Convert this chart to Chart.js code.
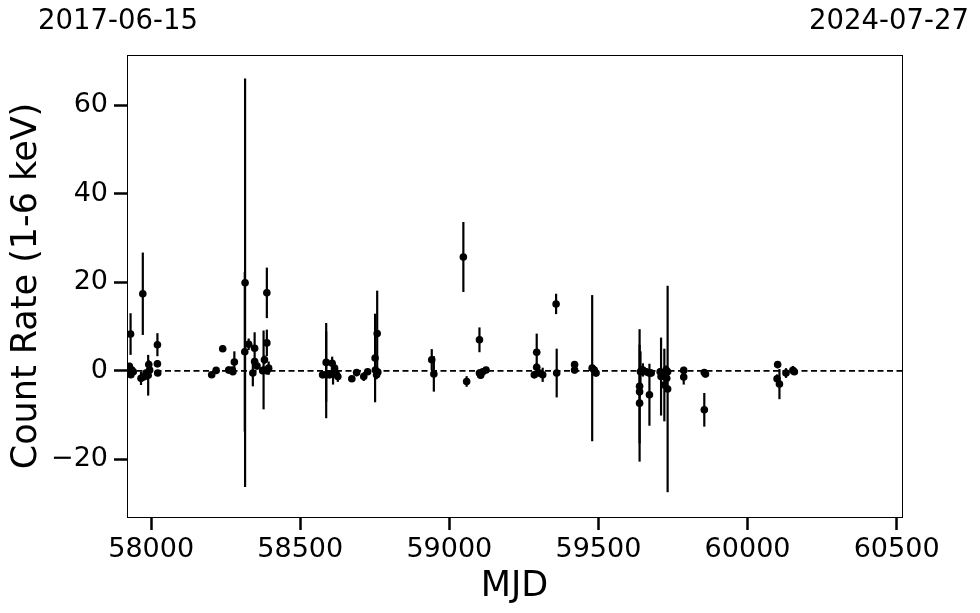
<!DOCTYPE html>
<html>
<head>
<meta charset="utf-8">
<script src="https://cdn.jsdelivr.net/npm/chart.js@4"></script>
<style>
  body { margin: 0; background: #fff; }
</style>
</head>
<body>
<canvas id="lc" width="980" height="613"></canvas>
<script>
    // light curve, MJD vs count rate with 1-sigma errors
    var mjd = [57927, 57931, 57932, 57935, 57940, 57966, 57972, 57978, 57983, 57990, 57992, 57995, 58021, 58021, 58022,
        58203, 58218, 58240, 58260, 58272, 58274, 58279, 58314, 58315, 58327, 58341, 58347, 58347, 58355, 58374, 58377, 58380, 58388, 58388, 58388, 58394,
        58575, 58587, 58587, 58598, 58607, 58610, 58615, 58620, 58626,
        58673, 58689, 58713, 58726,
        58751, 58752, 58756, 58758, 58760,
        58941, 58948,
        59047, 59058, 59101, 59101, 59105, 59112, 59123,
        59285, 59293, 59293, 59302, 59313, 59358, 59360,
        59420, 59420, 59479, 59486, 59492,
        59638, 59638, 59638, 59641, 59645, 59649, 59660, 59670, 59671, 59677,
        59707, 59710, 59721, 59727, 59729, 59732, 59732,
        59786, 59786, 59855, 59855, 59859,
        60099, 60101, 60107, 60129, 60152, 60157];
    var rate = [1.0, 8.3, -0.9, 0.2, -0.2, -1.7, 17.4, -1.3, -0.5, -1.0, 1.4, 0.2, 5.9, 1.6, -0.5,
        -0.9, 0.1, 5.0, 0.2, 0.2, -0.2, 2.0, 4.3, 19.9, 6.0, -0.5, 5.1, 2.1, 1.1, 0.0, 0.2, 2.5, 17.6, 6.3, 0.0, 0.6,
        -0.9, 1.9, -0.9, -0.9, 1.7, -0.5, 0.6, -0.5, -1.3,
        -1.8, -0.4, -1.3, -0.2,
        2.9, 0.2, -0.9, 8.4, -0.3,
        2.5, -0.7,
        25.7, -2.4, 7.0, -0.5, -1.0, -0.2, 0.2,
        -0.9, 4.2, 0.8, -0.5, -0.9, 15.1, -0.5,
        1.4, 0.2, 0.6, 0.2, -0.5,
        -7.3, -3.5, -4.7, -0.2, 0.2, 0.2, -0.2, -0.5, -5.4, -0.5,
        -0.2, -1.3, -3.2, 0.2, -1.7, -4.1, -0.2,
        0.1, -1.4, -0.4, -8.8, -0.7,
        -1.8, 1.4, -3.0, -0.5, 0.1, -0.2];
    var err = [0.8, 4.7, 0.6, 0.6, 0.5, 1.5, 9.3, 0.8, 0.8, 4.6, 1.0, 0.6, 2.6, 0.8, 0.6,
        0.5, 0.5, 0.7, 0.8, 0.6, 0.6, 2.4, 18.0, 46.1, 1.3, 3.0, 3.6, 0.8, 0.8, 0.6, 8.9, 1.0, 5.7, 3.0, 0.6, 1.5,
        0.8, 8.9, 9.8, 0.8, 1.5, 2.6, 0.6, 0.6, 1.2,
        0.6, 0.8, 1.0, 0.5,
        10.0, 1.0, 1.0, 9.7, 0.8,
        2.4, 4.0,
        7.9, 1.2, 2.8, 0.8, 0.8, 0.6, 0.6,
        0.8, 4.2, 1.0, 0.8, 1.6, 2.3, 5.5,
        0.8, 0.8, 16.5, 0.8, 0.8,
        13.2, 12.9, 1.0, 4.6, 0.8, 1.5, 0.8, 0.8, 7.0, 0.8,
        0.8, 8.8, 8.2, 1.0, 1.0, 23.3, 0.8,
        0.8, 1.7, 0.8, 3.8, 0.8,
        1.0, 0.8, 3.4, 1.1, 1.0, 0.6];

    var xMin = 57919, xMax = 60518;  // 2017-06-15 .. 2024-07-27
    var yMin = -33, yMax = 71.3;
    var xTicks = [58000, 58500, 59000, 59500, 60000, 60500];
    var yTicks = [-20, 0, 20, 40, 60];
    var dateLabels = ['2017-06-15', '2024-07-27'];

    var points = [];
    for (var i = 0; i < mjd.length; i++) {
        points.push({x: mjd[i], y: rate[i], err: err[i]});
    }

    const errorBars = {
        id: 'errorBars',
        beforeDatasetsDraw(chart) {
            const ctx = chart.ctx;
            const xs = chart.scales.x, ys = chart.scales.y;
            ctx.save();
            ctx.beginPath();
            ctx.rect(chart.chartArea.left, chart.chartArea.top, chart.chartArea.width, chart.chartArea.height);
            ctx.clip();
            ctx.strokeStyle = '#000';
            ctx.lineWidth = 2.2;
            chart.data.datasets[0].data.forEach(p => {
                const px = xs.getPixelForValue(p.x);
                ctx.beginPath();
                ctx.moveTo(px, ys.getPixelForValue(p.y - p.err));
                ctx.lineTo(px, ys.getPixelForValue(p.y + p.err));
                ctx.stroke();
            });
            ctx.restore();
        }
    };

    const frame = {
        id: 'frame',
        afterDraw(chart) {
            const ctx = chart.ctx;
            const a = chart.chartArea;
            const xs = chart.scales.x;
            ctx.save();
            ctx.strokeStyle = '#000';
            ctx.lineWidth = 1;
            ctx.strokeRect(Math.round(a.left) + 0.5, Math.round(a.top) + 0.5, Math.round(a.width), Math.round(a.height));
            ctx.fillStyle = '#000';
            ctx.font = '27.5px "DejaVu Sans"';
            ctx.textAlign = 'center';
            ctx.textBaseline = 'middle';
            ctx.fillText(dateLabels[0], xs.getPixelForValue(xMin) - 9, 22);
            ctx.fillText(dateLabels[1], xs.getPixelForValue(xMax) - 13, 22);
            ctx.restore();
        }
    };

    var tickFont = {family: 'DejaVu Sans', size: 27};
    var titleFont = {family: 'DejaVu Sans', size: 35};

    new Chart(document.getElementById('lc'), {
        type: 'scatter',
        data: {
            datasets: [{
                label: 'rate',
                data: points,
                backgroundColor: '#000',
                borderWidth: 0,
                pointRadius: 3.8,
                pointHoverRadius: 3.8
            }, {
                type: 'line',
                label: 'zero',
                data: [{x: xMin, y: 0}, {x: xMax, y: 0}],
                borderColor: '#000',
                borderWidth: 1.7,
                borderDash: [6, 3.5],
                pointRadius: 0,
                fill: false
            }]
        },
        options: {
            responsive: false,
            animation: false,
            events: [],
            layout: {padding: {top: 55, right: 78, left: 0, bottom: 0}},
            plugins: {legend: {display: false}, tooltip: {enabled: false}},
            scales: {
                x: {
                    type: 'linear',
                    min: xMin,
                    max: xMax,
                    afterBuildTicks: s => { s.ticks = xTicks.map(v => ({value: v})); },
                    afterFit: s => { s.height = 96; },
                    border: {display: false},
                    grid: {drawOnChartArea: false, drawTicks: true, tickLength: 13, tickWidth: 2.5, tickColor: '#000'},
                    ticks: {color: '#000', font: tickFont, padding: 4, maxRotation: 0, callback: v => String(v)},
                    title: {display: true, text: 'MJD', color: '#000', font: titleFont, padding: {top: 0, bottom: 5}}
                },
                y: {
                    type: 'linear',
                    min: yMin,
                    max: yMax,
                    afterBuildTicks: s => { s.ticks = yTicks.map(v => ({value: v})); },
                    afterFit: s => { s.width = 127; },
                    border: {display: false},
                    grid: {drawOnChartArea: false, drawTicks: true, tickLength: 13, tickWidth: 2.5, tickColor: '#000'},
                    ticks: {color: '#000', font: tickFont, padding: 6, callback: v => String(v).replace('-', '\u2212')},
                    title: {display: true, text: 'Count Rate (1-6 keV)', color: '#000', font: titleFont, padding: {top: 6, bottom: 0}}
                }
            }
        },
        plugins: [errorBars, frame]
    });
</script>
</body>
</html>
